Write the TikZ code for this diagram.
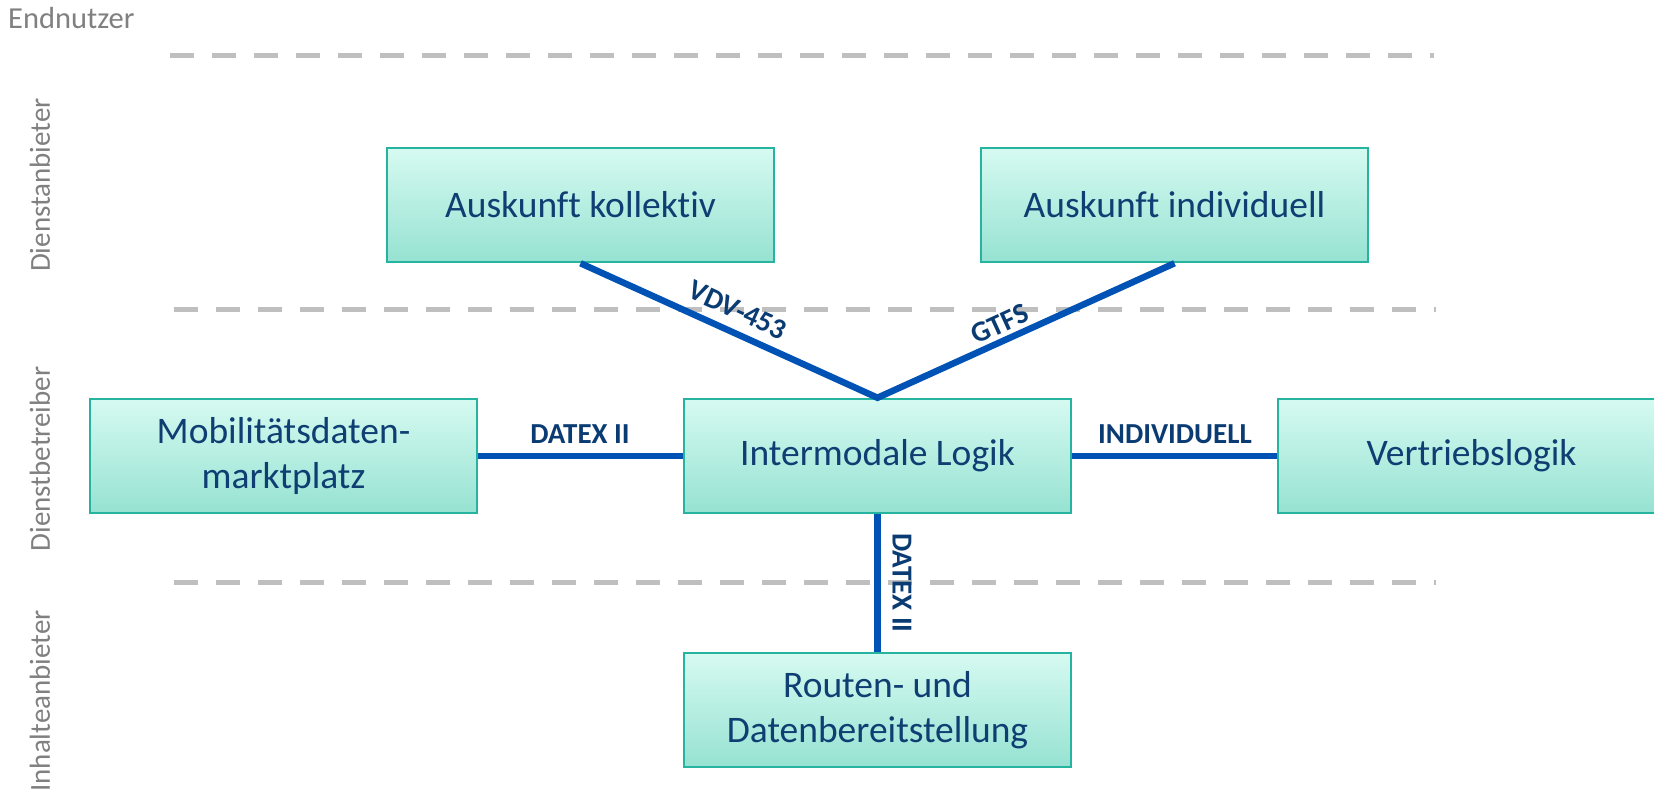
\documentclass[tikz,border=0pt]{standalone}
\usepackage{fontspec}
\setmainfont{Carlito}[Ligatures=NoCommon]
\definecolor{boxline}{RGB}{38,180,160}
\definecolor{boxtop}{RGB}{214,250,241}
\definecolor{boxbot}{RGB}{150,226,210}
\definecolor{boxtext}{RGB}{14,62,114}
\definecolor{lbltext}{RGB}{10,60,115}
\definecolor{linkblue}{RGB}{0,82,180}
\definecolor{layergray}{RGB}{128,128,128}
\definecolor{sepgray}{RGB}{191,191,191}
\begin{document}
\begin{tikzpicture}[x=1pt,y=-1pt,
  box/.style={draw=boxline, line width=2.5pt, top color=boxtop, bottom color=boxbot,
    minimum width=387pt, minimum height=114pt, inner sep=0pt, text=boxtext,
    font=\fontsize{37.5}{45}\selectfont, align=center},
  link/.style={draw=linkblue, line width=6.5pt, line join=miter},
  lbl/.style={text=lbltext, font=\fontsize{29}{34}\selectfont\bfseries, inner sep=0pt},
  layer/.style={text=layergray, font=\fontsize{29}{34}\selectfont, inner sep=0pt},
  sep/.style={draw=sepgray, line width=5pt, dash pattern=on 24pt off 18pt}]

\clip (0,0) rectangle (1654,797);
\fill[white] (0,0) rectangle (1654,797);

% layer separators
\coordinate (s1a) at (170,56);  \coordinate (s1b) at (1434,56);
\coordinate (s2a) at (174,309); \coordinate (s2b) at (1436,309);
\coordinate (s3a) at (174,582); \coordinate (s3b) at (1436,582);
\draw[sep] (s1a) -- (s1b);
\draw[sep] (s2a) -- (s2b);
\draw[sep] (s3a) -- (s3b);

% layer names
\node[layer, font=\fontsize{30.5}{36}\selectfont, anchor=base west] (en) at (8,29) {Endnutzer};
\node[layer, rotate=90] (da) at (40,185) {Dienstanbieter};
\node[layer, rotate=90] (db) at (40,459) {Dienstbetreiber};
\node[layer, rotate=90] (ia) at (40,701) {Inhalteanbieter};

% components
\node[box] (ak) at (580.5,205) {Auskunft kollektiv};
\node[box] (ai) at (1174.5,205) {Auskunft individuell};
\node[box] (mm) at (283.5,456) {Mobilitätsdaten-\\marktplatz};
\node[box] (im) at (877.5,456) {Intermodale Logik};
\node[box] (vl) at (1471.5,456) {Vertriebslogik};
\node[box] (rd) at (877.5,710) {Routen- und\\Datenbereitstellung};

% interfaces
\draw[link] (ak.south) -- (im.north) -- (ai.south);
\draw[link] (mm.east) -- (im.west);
\draw[link] (im.east) -- (vl.west);
\draw[link] (im.south) -- (rd.north);

% interface names
\node[lbl] (l1) at (580,434) {DATEX II};
\node[lbl] (l2) at (1175,434) {INDIVIDUELL};
\node[lbl, rotate=-24.6] (l3) at (738,310) {VDV-453};
\node[lbl, rotate=24.7] (l4) at (1000,324) {GTFS};
\node[lbl, rotate=-90] (l5) at (902,583) {DATEX II};
\end{tikzpicture}
\end{document}
